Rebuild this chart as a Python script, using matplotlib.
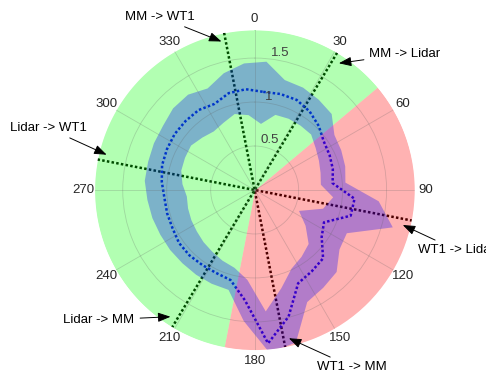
import numpy as np
import matplotlib
matplotlib.use("Agg")
import matplotlib.pyplot as plt

plt.rcParams['font.family'] = ['Liberation Sans', 'DejaVu Sans']

# direction bins (deg, clockwise from north)
theta_deg = [5, 15, 25, 35, 45, 55, 65, 75, 85, 95,
             105, 115, 125, 135, 145, 155, 165, 175, 185, 195,
             205, 215, 225, 235, 245, 255, 265, 275, 285, 295,
             305, 315, 325, 335, 345, 355]
mean_val = [1.12, 1.13, 1.13, 1.09, 1.03, 0.96, 0.94, 0.92, 0.89, 1.14,
            1.13, 0.87, 0.93, 1.10, 1.13, 1.17, 1.49, 1.75, 1.26, 1.06,
            1.04, 1.04, 1.05, 1.05, 1.03, 1.03, 1.03, 1.06, 1.09, 1.10,
            1.11, 1.11, 1.11, 1.08, 1.14, 1.15]
lower_val = [0.76, 0.89, 0.90, 0.90, 0.90, 0.84, 0.80, 0.77, 0.75, 0.89,
             0.80, 0.55, 0.70, 0.86, 0.92, 0.98, 1.15, 1.38, 1.02, 0.91,
             0.88, 0.85, 0.83, 0.81, 0.80, 0.79, 0.78, 0.83, 0.87, 0.88,
             0.89, 0.85, 0.82, 0.85, 0.90, 0.86]
upper_val = [1.47, 1.30, 1.29, 1.26, 1.23, 1.10, 1.08, 1.06, 1.03, 1.41,
             1.62, 1.15, 1.17, 1.31, 1.35, 1.40, 1.79, 1.85, 1.49, 1.17,
             1.17, 1.17, 1.17, 1.18, 1.19, 1.21, 1.23, 1.26, 1.26, 1.27,
             1.28, 1.32, 1.33, 1.28, 1.38, 1.45]

# waked sector (red) and free sector (green)
red_sector = (50, 191)

# site-to-site directions
line_dirs = [349, 31, 281]
# (label, arrow head angle, text x, text y in figure pixels, ha)
annots = [
    ("MM -> WT1", 347.4, 160, 357, 'center'),
    ("WT1 -> MM", 167.0, 352, 7, 'center'),
    ("MM -> Lidar", 33.6, 405, 320, 'center'),
    ("Lidar -> MM", 213.6, 99, 54, 'center'),
    ("Lidar -> WT1", 283.4, 48, 246, 'center'),
    ("WT1 -> Lidar", 103.3, 418, 124, 'left'),
]

rmax = 1.82

fig = plt.figure(figsize=(4.86, 3.74), dpi=100)
ax = fig.add_axes([0.194, 0.064, 0.66, 0.856], projection='polar')
ax.set_theta_zero_location('N')
ax.set_theta_direction(-1)

th = np.deg2rad(theta_deg + [theta_deg[0] + 360])
mean_c = mean_val + [mean_val[0]]
low_c = lower_val + [lower_val[0]]
up_c = upper_val + [upper_val[0]]

# dotted lines go underneath the translucent fills
dots = (0, (1, 0.9))
for a in line_dirs:
    t = np.deg2rad([a, a, a + 180, a + 180])
    ax.plot(t, [rmax, 0, 0, rmax], color='k', ls=dots, lw=1.8, zorder=1)
ax.plot(th, mean_c, color='b', ls=dots, lw=1.8, zorder=1)

t_red = np.deg2rad(np.linspace(red_sector[0], red_sector[1], 200))
t_green = np.deg2rad(np.linspace(red_sector[1], red_sector[0] + 360, 400))
ax.fill_between(t_red, 0, rmax, color='r', alpha=0.3, lw=0, zorder=1.2)
ax.fill_between(t_green, 0, rmax, color=(0, 1, 0), alpha=0.3, lw=0, zorder=1.2)

ax.fill_between(th, low_c, up_c, color='b', alpha=0.3, lw=0, zorder=1.3)

ax.set_ylim(0, rmax)
ax.set_rticks([0.5, 1, 1.5])
ax.set_yticklabels(['0.5', '1', '1.5'], color='#404040', fontsize=9.5)
ax.set_rlabel_position(7)
ax.set_thetagrids(range(0, 360, 30), [str(d) for d in range(0, 360, 30)],
                  color='#262626', fontsize=9.5)
ax.tick_params(axis='x', pad=-2.5)
ax.set_axisbelow(False)
ax.grid(color='#606060', alpha=0.25, lw=0.6)
ax.spines['polar'].set_visible(False)

for text, head, tx, ty, ha in annots:
    ax.annotate(text, xy=(np.deg2rad(head), 1.73), xytext=(tx, ty),
                textcoords='figure pixels', ha=ha, va='center', fontsize=9.5,
                arrowprops=dict(arrowstyle='-|>,head_length=0.8,head_width=0.3',
                                color='k', lw=0.7, shrinkA=2, shrinkB=0),
                annotation_clip=False)

fig.savefig('out.png', dpi=100)
